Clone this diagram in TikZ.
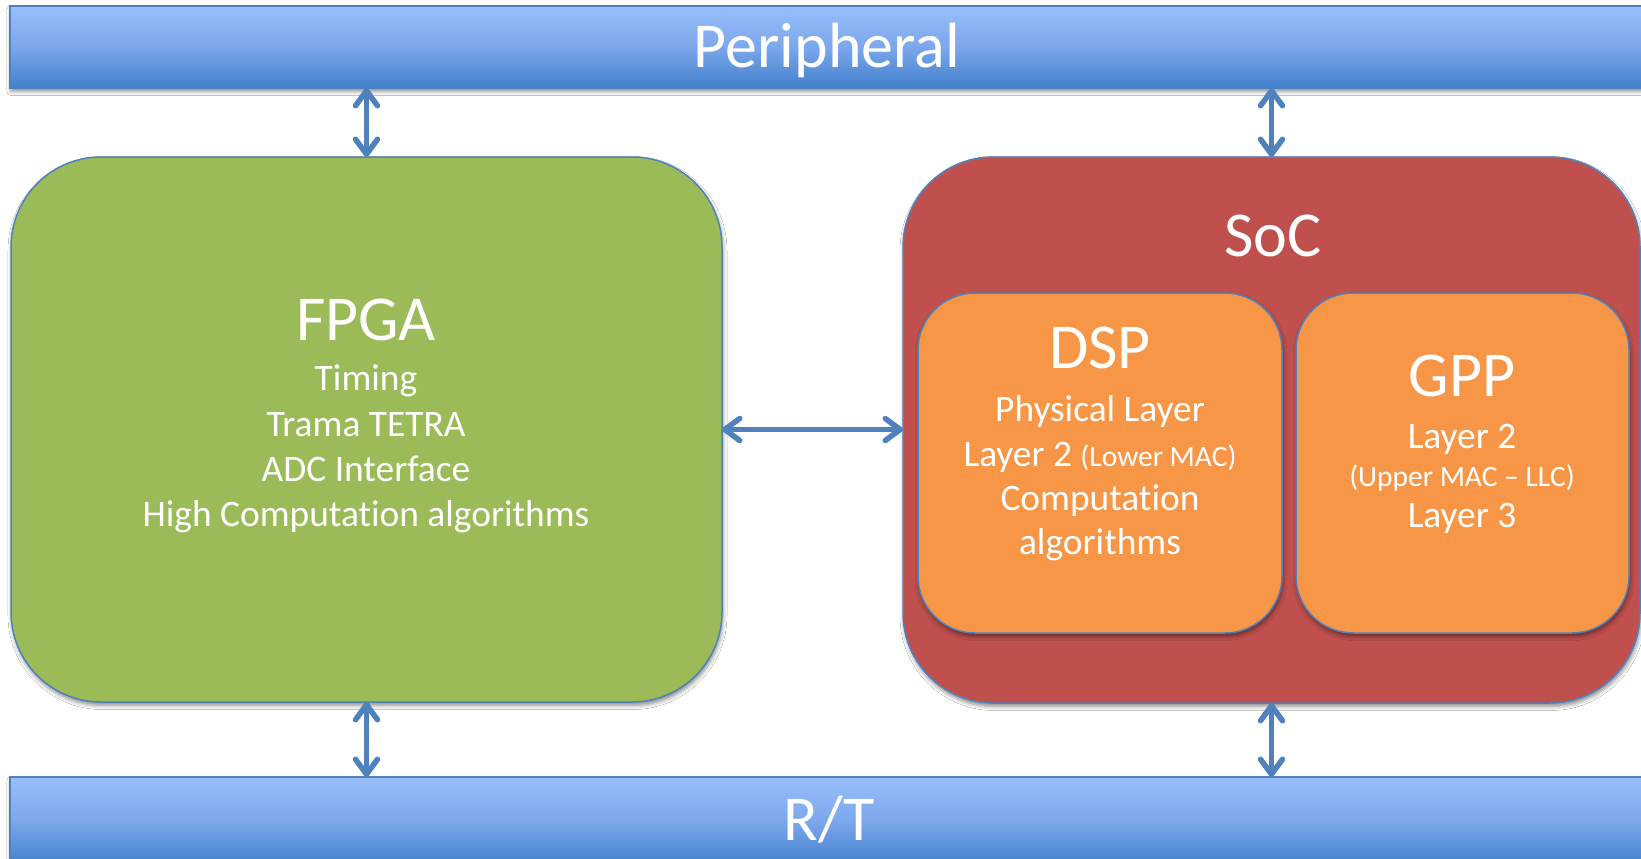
\documentclass[tikz,border=0pt]{standalone}
\usepackage{fontspec}
\setmainfont{Carlito}[Ligatures={TeX,NoCommon}]
\usetikzlibrary{arrows.meta,shadows.blur}

\definecolor{barTop}{RGB}{152,190,251}
\definecolor{barMid}{RGB}{124,167,236}
\definecolor{barBot}{RGB}{65,128,203}
\definecolor{edgeBlue}{RGB}{79,129,189}
\definecolor{fpgaGreen}{RGB}{155,187,89}
\definecolor{socRed}{RGB}{192,80,77}
\definecolor{coreOrange}{RGB}{247,150,70}
\definecolor{linkBlue}{RGB}{79,129,189}

\newcommand\notefont{\fontsize{29.5pt}{29.5pt}\selectfont}

\begin{document}
\begin{tikzpicture}[x=1pt,y=-1pt,
  softshadow/.style={blur shadow={shadow xshift=1pt, shadow yshift=-3.5pt,
      shadow blur radius=4pt, shadow opacity=45}},
  bus/.style={draw=edgeBlue, line width=1.2pt, top color=barTop,
      bottom color=barBot, middle color=barMid, inner sep=0pt, outer sep=0pt,
      softshadow},
  block/.style={draw=edgeBlue, line width=1.5pt, rounded corners=#1,
      inner sep=0pt, outer sep=0pt, softshadow},
  link/.style={draw=linkBlue, line width=5.5pt,
      {Straight Barb[length=15pt,width=22pt,round]}-{Straight Barb[length=15pt,width=22pt,round]}},
  title/.style={text=white, font=\fontsize{64pt}{64pt}\selectfont,
      inner sep=0pt, anchor=base},
  body/.style={text=white, font=\fontsize{37.4pt}{37.4pt}\selectfont,
      inner sep=0pt, anchor=base},
  note/.style={font=\notefont},
]
\useasboundingbox (0,0) rectangle (1641,859);
\clip (0,0) rectangle (1641,859);
\fill[white] (0,0) rectangle (1641,859);

% buses
\node[bus, minimum width=1635pt, minimum height=82pt] (peri) at (827.5,47) {};
\node[bus, minimum width=1635pt, minimum height=88pt] (rt) at (827.5,821) {};

% processing blocks
\node[block=90pt, fill=fpgaGreen, minimum width=711pt, minimum height=545pt]
  (fpga) at (366.5,429.5) {};
\node[block=90pt, fill=socRed, minimum width=737pt, minimum height=546pt]
  (soc) at (1271.5,430) {};
\node[block=57pt, fill=coreOrange, minimum width=364pt, minimum height=340pt]
  (dsp) at (1100,463) {};
\node[block=57pt, fill=coreOrange, minimum width=333pt, minimum height=340pt]
  (gpp) at (1462.5,463) {};

% links
\draw[link] (fpga.north) -- (fpga.north |- peri.south);
\draw[link] (soc.north) -- (soc.north |- peri.south);
\draw[link] (fpga.south) -- (fpga.south |- rt.north);
\draw[link] (soc.south) -- (soc.south |- rt.north);
\draw[link] (fpga.east) -- (soc.west |- fpga.east);

% labels
\node[title] (periT) at (827,67) {Peripheral};
\node[title] (rtT) at (829,840) {R/T};

\node[title] (fpgaT) at (366,340) {FPGA};
\node[body] (fpga1) at (366,390) {Timing};
\node[body] (fpga2) at (366,436) {Trama TETRA};
\node[body] (fpga3) at (366,481) {ADC Interface};
\node[body] (fpga4) at (366,526) {High Computation algorithms};

\node[title] (socT) at (1273,256) {SoC};

\node[title] (dspT) at (1100,368) {DSP};
\node[body] (dsp1) at (1100,421) {Physical Layer};
\node[body] (dsp2) at (1100,466) {Layer 2 {\notefont (Lower MAC)}};
\node[body] (dsp3) at (1100,510) {Computation};
\node[body] (dsp4) at (1100,554) {algorithms};

\node[title] (gppT) at (1462,396) {GPP};
\node[body] (gpp1) at (1462,448) {Layer 2};
\node[body, note] (gpp2) at (1462,486) {(Upper MAC – LLC)};
\node[body] (gpp3) at (1462,527) {Layer 3};
\end{tikzpicture}
\end{document}
